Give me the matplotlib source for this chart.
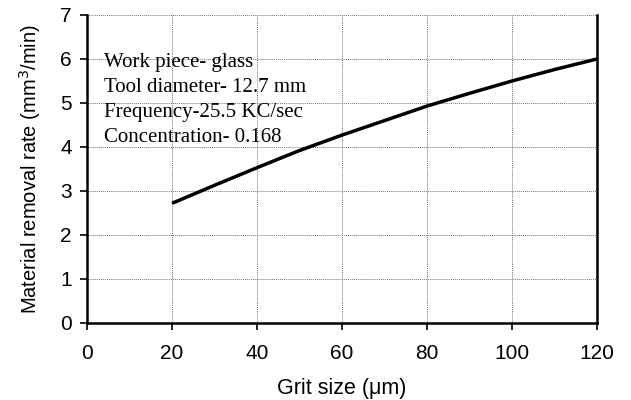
import matplotlib
matplotlib.use('Agg')
import matplotlib.pyplot as plt

# Datos
grit_size = [20, 30, 40, 50, 60, 70, 80, 90, 100, 110, 120]
mrr = [2.72, 3.13, 3.53, 3.92, 4.27, 4.60, 4.93, 5.22, 5.50, 5.76, 6.00]

x_ticks = [0, 20, 40, 60, 80, 100, 120]
y_ticks = [0, 1, 2, 3, 4, 5, 6, 7]

notes = ['Work piece- glass',
         'Tool diameter- 12.7 mm',
         'Frequency-25.5 KC/sec',
         'Concentration- 0.168']

fig = plt.figure(figsize=(6.31, 4.0), dpi=100)
ax = fig.add_axes([0.138, 0.1925, 0.808, 0.77])

ax.plot(grit_size, mrr, color='black', linewidth=2.5, solid_capstyle='butt')

ax.set_xlim(0, 120)
ax.set_ylim(0, 7)
ax.set_xticks(x_ticks)
ax.set_yticks(y_ticks)
ax.grid(True, color='#777777', linestyle=(0, (1, 1)), linewidth=0.7)
ax.set_axisbelow(True)

for side in ['left', 'bottom', 'right']:
    ax.spines[side].set_linewidth(1.8)
ax.spines['top'].set_visible(False)
ax.tick_params(axis='both', direction='out', length=5, width=1.2,
               labelsize=15)
ax.tick_params(axis='x', pad=10)
ax.tick_params(axis='y', pad=6)
for lbl in ax.get_xticklabels() + ax.get_yticklabels():
    lbl.set_fontfamily('Liberation Sans')

ax.set_xlabel('Grit size (\u03bcm)', fontsize=15.5, fontfamily='Liberation Sans', labelpad=11)
ax.set_ylabel('Material removal rate (mm$^3$/min)', fontsize=14.5,
              fontfamily='Liberation Sans', labelpad=12)

ax.text(4.0, 6.13, '\n'.join(notes), fontsize=15, fontfamily='Liberation Serif',
        va='top', ha='left', linespacing=1.41)

plt.savefig('out.png', dpi=100)
plt.close()
